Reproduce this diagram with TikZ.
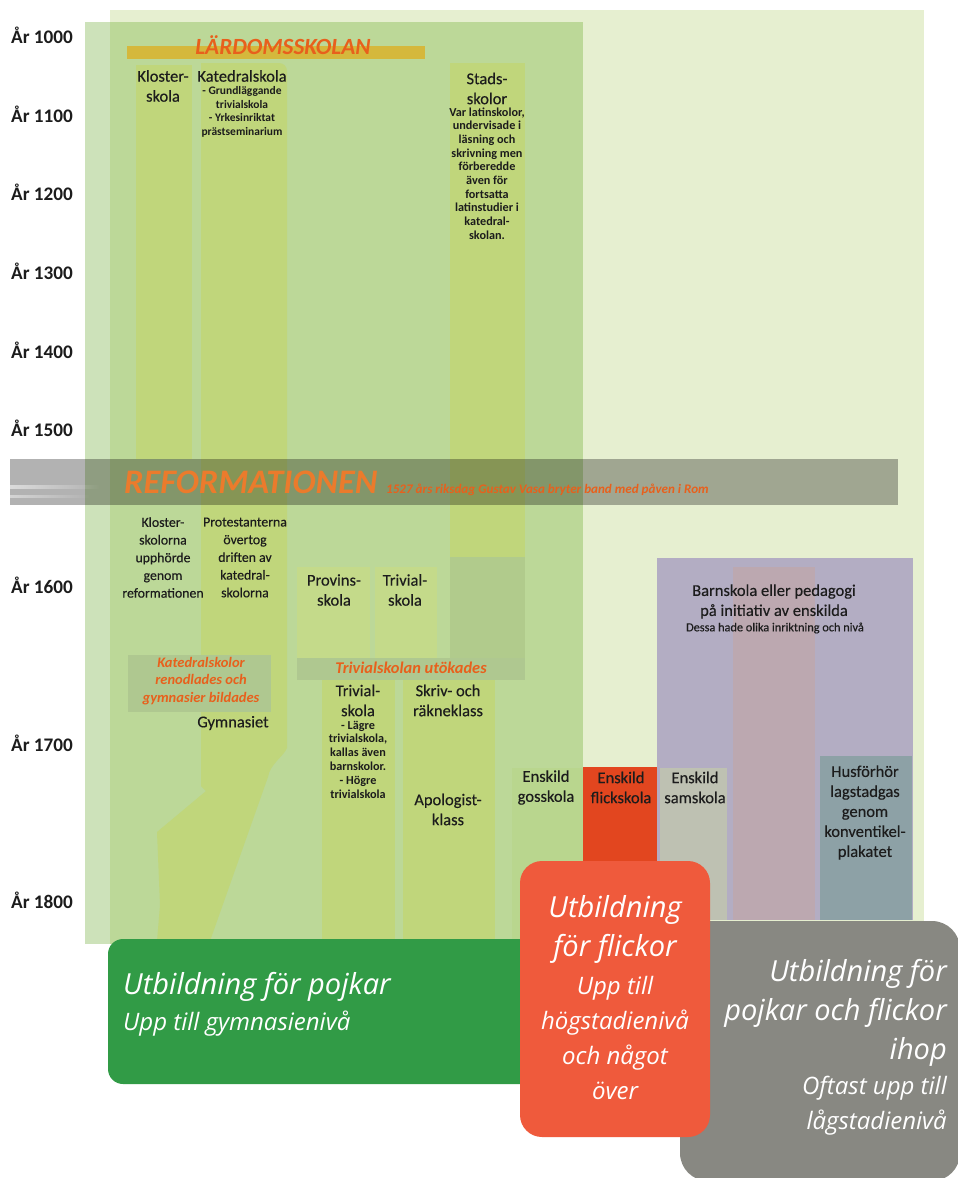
\documentclass[tikz,border=0pt]{standalone}
\usepackage{fontspec}
\setmainfont{Carlito}
\newfontfamily\semibold[FakeBold=0.3]{Carlito}
\newfontfamily\boxfont{Open Sans}
\usetikzlibrary{fadings}
\definecolor{pale}{HTML}{E6EFD0}
\definecolor{panel}{HTML}{BCD898}
\definecolor{strip}{HTML}{CDE2BA}
\definecolor{colgreen}{HTML}{C0D67B}
\definecolor{colbox}{HTML}{C4DA8A}
\definecolor{greyband}{HTML}{AFC890}
\definecolor{stadsdark}{HTML}{B1CB8C}
\definecolor{gossgreen}{HTML}{B9D68E}
\definecolor{goldbar}{HTML}{D5B83C}
\definecolor{ink}{HTML}{1C1C1C}
\definecolor{orng}{HTML}{E8601C}
\definecolor{reforange}{HTML}{EB7B2C}
\definecolor{flick}{HTML}{E2461F}
\definecolor{purp}{HTML}{B3ADC3}
\definecolor{pinkcol}{HTML}{BCA8B0}
\definecolor{sams}{HTML}{BEC1B2}
\definecolor{husf}{HTML}{8DA1A6}
\definecolor{boxgreen}{HTML}{319B46}
\definecolor{boxred}{HTML}{EF5A3C}
\definecolor{boxgrey}{HTML}{888882}
\begin{document}
\begin{tikzpicture}[x=1pt,y=-1pt,
  hd/.style={font=\semibold\fontsize{16.5}{20}\selectfont, align=center, text=ink, inner sep=0pt},
  smtxt/.style={font=\bfseries\fontsize{11.5}{13.6}\selectfont, align=center, text=ink, inner sep=0pt},
  midtxt/.style={font=\semibold\fontsize{13.8}{17.7}\selectfont, align=center, text=ink, inner sep=0pt},
  notetxt/.style={font=\bfseries\itshape\fontsize{14.5}{17.8}\selectfont, text=orng, align=center, inner sep=0pt},
  yr/.style={font=\bfseries\fontsize{19.2}{21}\selectfont, anchor=base west, inner sep=0pt, text=ink},
  bigt/.style={font=\boxfont\itshape\fontsize{29}{39}\selectfont, text=white, inner sep=0pt},
  subt/.style={font=\boxfont\itshape\fontsize{24}{35}\selectfont, text=white, inner sep=0pt}]
\clip (0,0) rectangle (958,1178);
\fill[white] (0,0) rectangle (958,1178);
% background panels
\fill[pale] (110,10) rectangle (924,944);
\fill[strip] (85,22) rectangle (110,944);
\fill[panel] (110,22) rectangle (583,944);
% columns before reformation
\fill[colgreen] (136,65) rectangle (192,459);
\fill[colgreen] (201,63) -- (279,63) to[out=0,in=90] (287,71) -- (287,748)
  .. controls (284,756) and (270,764) .. (268,777) -- (210,941) -- (157,941)
  -- (160,905) -- (157,832) -- (206,791) -- (201,786) -- cycle;
\fill[colgreen] (450,63) rectangle (525,658);
\fill[stadsdark] (450,557) rectangle (525,658);
% later boxes
\fill[colbox] (297,567) rectangle (370,658);
\fill[colbox] (375,567) rectangle (437,658);
\fill[greyband] (297,658) rectangle (525,680);
\fill[greyband] (128,655) rectangle (271,712);
\fill[colgreen] (322,680) rectangle (395,944);
\fill[colgreen] (403,680) rectangle (495,944);
\fill[gossgreen] (512,768) rectangle (583,944);
\fill[flick] (583,767) rectangle (657,870);
\fill[purp] (657,558) rectangle (913,920);
\fill[pinkcol] (733,567) rectangle (815,920);
\fill[sams] (660,768) rectangle (727,920);
\fill[husf] (820,756) rectangle (912,920);
% Lärdomsskolan bar
\fill[goldbar] (127,46) rectangle (425,59);
% reformation band
\fill[black, opacity=0.3] (10,459) rectangle (898,505);
\fill[white, opacity=0.55, path fading=east] (10,485) rectangle (100,489);
\fill[white, opacity=0.45, path fading=east] (10,495) rectangle (90,498);
% year labels
\node[yr] (y1000) at (11,43) {År 1000};
\node[yr] (y1100) at (11,122) {År 1100};
\node[yr] (y1200) at (11,200) {År 1200};
\node[yr] (y1300) at (11,279) {År 1300};
\node[yr] (y1400) at (11,358) {År 1400};
\node[yr] (y1500) at (11,436) {År 1500};
\node[yr] (y1600) at (11,593) {År 1600};
\node[yr] (y1700) at (11,751) {År 1700};
\node[yr] (y1800) at (11,908) {År 1800};
% titles
\node[font=\bfseries\itshape\fontsize{23.2}{25}\selectfont, text=orng, anchor=base, inner sep=0pt] (lard) at (283,54) {LÄRDOMSSKOLAN};
\node[font=\bfseries\itshape\fontsize{34.4}{36}\selectfont, text=reforange, anchor=base west, inner sep=0pt] (ref) at (124,493) {REFORMATIONEN};
\node[font=\bfseries\itshape\fontsize{13.1}{14}\selectfont, text=orng, anchor=base west, inner sep=0pt] (riksdag) at (386,493) {1527 års riksdag Gustav Vasa bryter band med påven i Rom};
% column texts
\node[hd] (kloster) at (163,86) {Kloster-\\skola};
\node[hd] (katedral) at (242,76) {Katedralskola};
\node[smtxt] (katedralsm) at (242,112) {- Grundläggande\\trivialskola\\- Yrkesinriktat\\prästseminarium};
\node[hd] (stads) at (487,88.5) {Stads-\\skolor};
\node[smtxt, font=\bfseries\fontsize{12.2}{13.7}\selectfont] (stadssm) at (487,173.5) {Var latinskolor,\\undervisade i\\läsning och\\skrivning men\\förberedde\\även för\\fortsatta\\latinstudier i\\katedral-\\skolan.};
\node[midtxt] (klosterupp) at (163,557.5) {Kloster-\\skolorna\\upphörde\\genom\\reformationen};
\node[midtxt] (protest) at (245,557.5) {Protestanterna\\övertog\\driften av\\katedral-\\skolorna};
\node[hd] (provins) at (334,590) {Provins-\\skola};
\node[hd] (trivial1) at (405,590) {Trivial-\\skola};
\node[notetxt, font=\bfseries\itshape\fontsize{16.4}{18}\selectfont] (utokades) at (411,668) {Trivialskolan utökades};
\node[notetxt] (renodl) at (201,681) {Katedralskolor\\renodlades och\\gymnasier bildades};
\node[hd] (gymn) at (233,723) {Gymnasiet};
\node[hd] (trivial2) at (358,700.5) {Trivial-\\skola};
\node[smtxt, font=\bfseries\fontsize{12.2}{13.8}\selectfont] (trivial2sm) at (358,759.5) {- Lägre\\trivialskola,\\kallas även\\barnskolor.\\- Högre\\trivialskola};
\node[hd] (skriv) at (448,700.5) {Skriv- och\\räkneklass};
\node[hd] (apolog) at (448,809.5) {Apologist-\\klass};
\node[hd] (barn) at (774,601.5) {Barnskola eller pedagogi\\på initiativ av enskilda};
\node[font=\semibold\fontsize{12.3}{13}\selectfont, text=ink, inner sep=0pt] (dessa) at (775,628) {Dessa hade olika inriktning och nivå};
\node[hd] (goss) at (546,787.5) {Enskild\\gosskola};
\node[hd] (flickskola) at (621,787.5) {Enskild\\flickskola};
\node[hd] (samskola) at (695,787.5) {Enskild\\samskola};
\node[hd] (husf) at (865,812.5) {Husförhör\\lagstadgas\\genom\\konventikel-\\plakatet};
% summary boxes
\fill[boxgreen, rounded corners=15pt] (108,939) rectangle (560,1084);
\node[bigt, anchor=base west] (pojkar) at (123,994) {Utbildning för pojkar};
\node[subt, anchor=base west] (pojkarsub) at (123,1030) {Upp till gymnasienivå};
\fill[boxgrey, rounded corners=28pt] (680,921) rectangle (960,1181);
\node[bigt, align=right, anchor=east] (ihop) at (947,1012.5) {Utbildning för\\pojkar och flickor\\ihop};
\node[subt, align=right, anchor=east] (ihopsub) at (947,1106) {Oftast upp till\\lågstadienivå};
\fill[boxred, rounded corners=22pt] (520,861) rectangle (710,1137);
\node[bigt, align=center] (flickor) at (615,929.5) {Utbildning\\för flickor};
\node[subt, align=center] (flickorsub) at (615,1037.5) {Upp till\\högstadienivå\\och något\\över};
\end{tikzpicture}
\end{document}
